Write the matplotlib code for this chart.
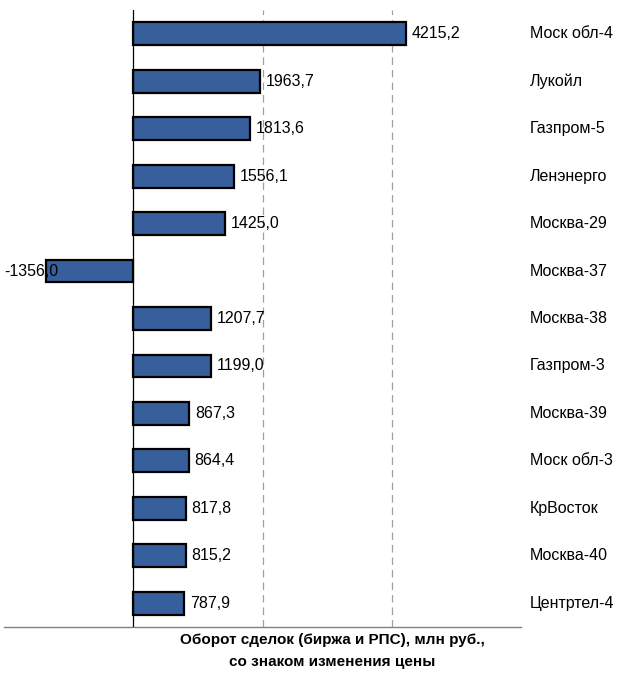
import matplotlib
matplotlib.use("Agg")
import matplotlib.pyplot as plt

plt.rcParams['font.family'] = ["Liberation Sans", "DejaVu Sans"]

categories = ["Моск обл-4", "Лукойл", "Газпром-5", "Ленэнерго", "Москва-29", "Москва-37",
              "Москва-38", "Газпром-3", "Москва-39", "Моск обл-3", "КрВосток", "Москва-40", "Центртел-4"]
values = [4215.2, 1963.7, 1813.6, 1556.1, 1425.0, -1356.0, 1207.7, 1199.0, 867.3, 864.4, 817.8, 815.2, 787.9]
gridlines = [2000, 4000]
xlabel = "Оборот сделок (биржа и РПС), млн руб.,\nсо знаком изменения цены"

W, H = 620, 675
fig = plt.figure(figsize=(W / 100, H / 100), dpi=100)
ax = fig.add_axes([4 / W, 1 - 627 / H, (521 - 4) / W, (627 - 10) / H])

y = list(range(len(categories)))
ax.barh(y, values, height=0.48, color="#365f9b", edgecolor="black", linewidth=1.6, zorder=3)
ax.set_xlim(-2000, 6000)
ax.set_ylim(len(categories) - 0.5, -0.5)

for g in gridlines:
    ax.axvline(g, color="#a0a0a0", linestyle=(0, (6, 4)), linewidth=0.9, zorder=1)
ax.axvline(0, color="black", linewidth=0.9, zorder=4)

for yi, v, c in zip(y, values, categories):
    s = f"{v:.1f}".replace(".", ",")
    if v >= 0:
        ax.annotate(s, (v, yi), xytext=(4, 0), textcoords="offset points",
                    ha="left", va="center", fontsize=11.5)
    else:
        ax.annotate(s, (v, yi), xytext=(9, 0), textcoords="offset points",
                    ha="right", va="center", fontsize=11.5, zorder=5)
    ax.annotate(c, xy=(1, yi), xycoords=("axes fraction", "data"), xytext=(9, 0),
                textcoords="offset pixels", ha="left", va="center", fontsize=11.5)

for s in ["top", "right", "left"]:
    ax.spines[s].set_visible(False)
ax.spines["bottom"].set_color("#808080")
ax.spines["bottom"].set_linewidth(1.0)
ax.set_xticks([])
ax.set_yticks([])

fig.text(332 / W, 1 - 651 / H, xlabel, ha="center", va="center", fontsize=11,
         fontweight="bold", linespacing=1.7)

fig.savefig("out.png", dpi=100)
